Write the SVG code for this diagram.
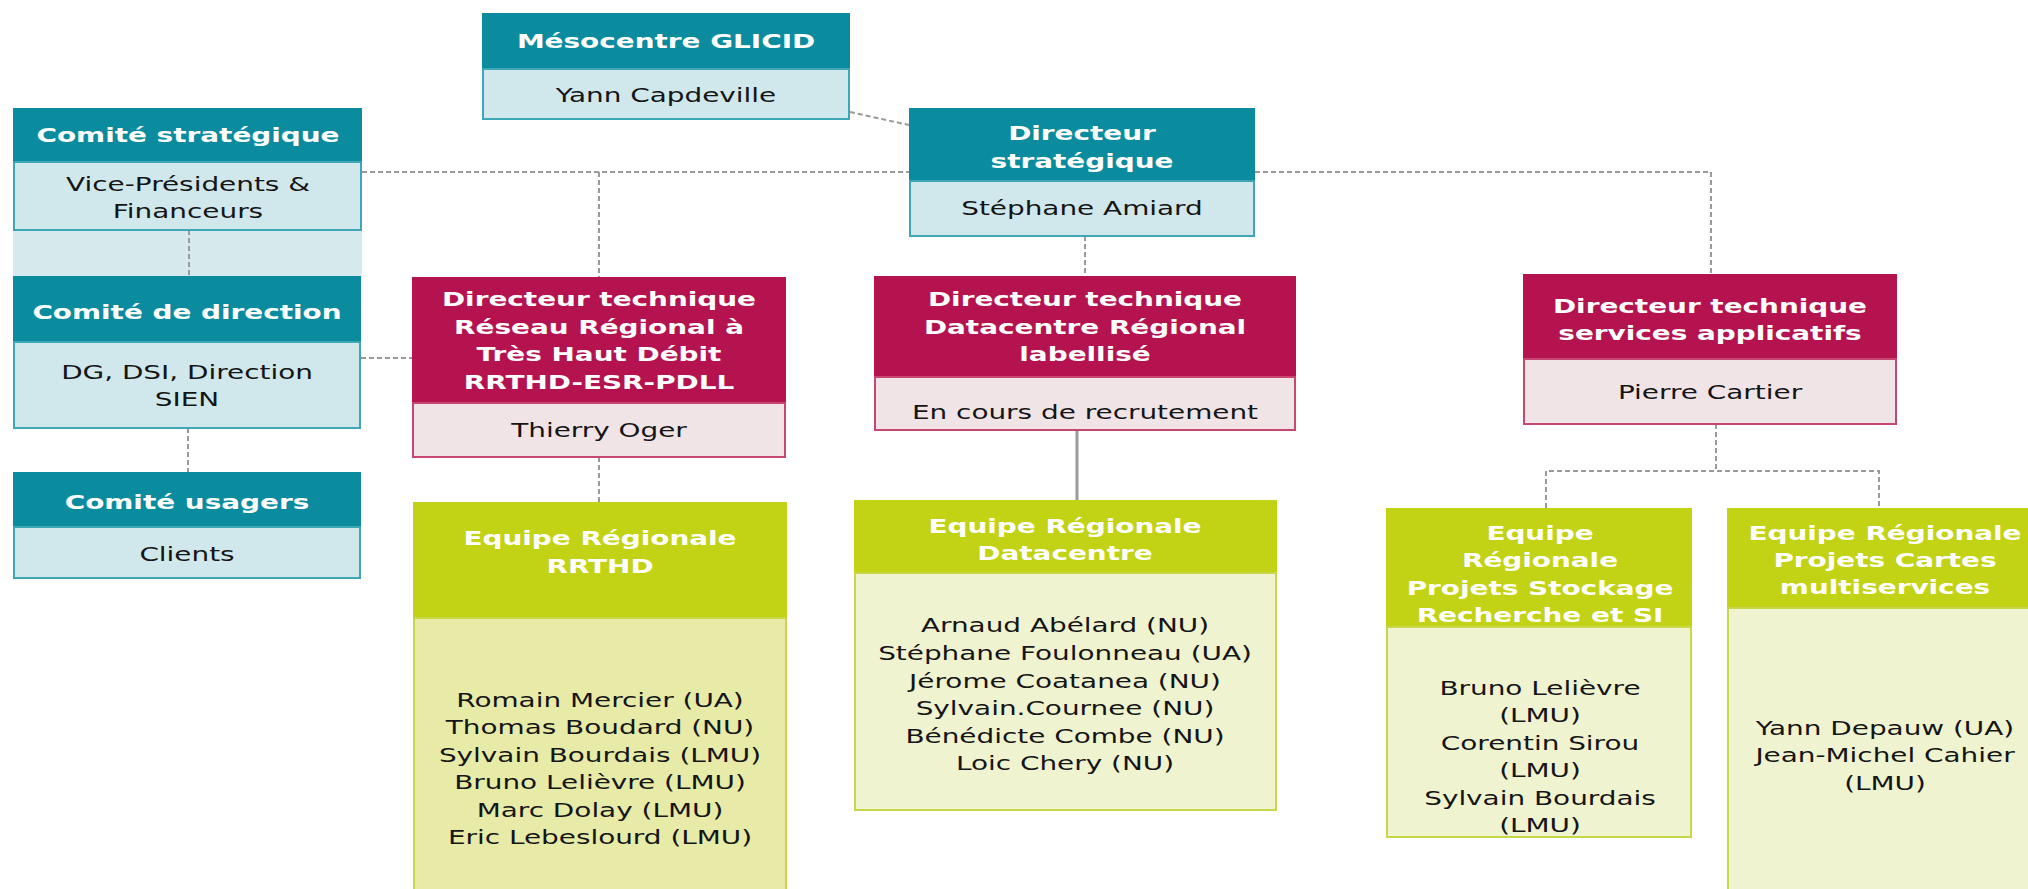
<svg xmlns="http://www.w3.org/2000/svg" width="2028" height="889" viewBox="0 0 2028 889">
<style>
.th{fill:#0b8b9e}
.tb{fill:#d0e7eb;stroke:#3fa6b5;stroke-width:2}
.mh{fill:#b5134f}
.mb{fill:#f0e4e7;stroke:#c84672;stroke-width:2}
.lh{fill:#c2d315}
.lb{fill:#f0f3d0;stroke:#c8d74a;stroke-width:2}
.lb2{fill:#e7eba7;stroke:#c8d74a;stroke-width:2}
text{font-family:"DejaVu Sans","Verdana",sans-serif;font-size:19.5px;text-anchor:middle}
.h{font-weight:bold;fill:#ffffff}
.b{fill:#151515}
.dash{stroke:#9a9a9a;stroke-width:2;stroke-dasharray:5 3;fill:none}
.solid{stroke:#9a9a9a;stroke-width:3;fill:none}
</style>
<rect width="2028" height="889" fill="#ffffff"/>

<g id="connectors">
  <rect x="13" y="230" width="349" height="47" fill="#d6eaee"/>
  <line class="dash" x1="189" y1="230" x2="189" y2="277"/>
  <line class="dash" x1="188" y1="428" x2="188" y2="472"/>
  <line class="dash" x1="361" y1="358" x2="412" y2="358"/>
  <line class="dash" x1="850" y1="112" x2="909" y2="125"/>
  <line class="dash" x1="362" y1="172" x2="909" y2="172"/>
  <polyline class="dash" points="1255,172 1711,172 1711,275"/>
  <line class="dash" x1="599" y1="172" x2="599" y2="277"/>
  <line class="dash" x1="1085" y1="236" x2="1085" y2="276"/>
  <line class="dash" x1="599" y1="457" x2="599" y2="502"/>
  <line class="solid" x1="1077" y1="430" x2="1077" y2="500"/>
  <line class="dash" x1="1716" y1="424" x2="1716" y2="471"/>
  <polyline class="dash" points="1546,508 1546,471 1879,471 1879,513"/>
</g>

<g id="mesocentre">
  <rect class="th" x="482" y="13" width="368" height="56"/>
  <rect class="tb" x="483" y="69" width="366" height="50"/>
  <g transform="translate(666,0) scale(1.43,1)">
    <text class="h" x="0" y="48">Mésocentre GLICID</text>
    <text class="b" x="0" y="102">Yann Capdeville</text>
  </g>
</g>

<g id="comite-strategique">
  <rect class="th" x="13" y="108" width="349" height="54"/>
  <rect class="tb" x="14" y="162" width="347" height="68"/>
  <g transform="translate(188,0) scale(1.43,1)">
    <text class="h" x="0" y="142">Comité stratégique</text>
    <text class="b" x="0" y="191">Vice-Présidents &amp;</text>
    <text class="b" x="0" y="218">Financeurs</text>
  </g>
</g>

<g id="comite-direction">
  <rect class="th" x="13" y="276" width="348" height="66"/>
  <rect class="tb" x="14" y="342" width="346" height="86"/>
  <g transform="translate(187,0) scale(1.43,1)">
    <text class="h" x="0" y="319">Comité de direction</text>
    <text class="b" x="0" y="379">DG, DSI, Direction</text>
    <text class="b" x="0" y="406">SIEN</text>
  </g>
</g>

<g id="comite-usagers">
  <rect class="th" x="13" y="472" width="348" height="55"/>
  <rect class="tb" x="14" y="527" width="346" height="51"/>
  <g transform="translate(187,0) scale(1.43,1)">
    <text class="h" x="0" y="509">Comité usagers</text>
    <text class="b" x="0" y="561">Clients</text>
  </g>
</g>

<g id="directeur-strategique">
  <rect class="th" x="909" y="108" width="346" height="73"/>
  <rect class="tb" x="910" y="181" width="344" height="55"/>
  <g transform="translate(1082,0) scale(1.43,1)">
    <text class="h" x="0" y="140">Directeur</text>
    <text class="h" x="0" y="168">stratégique</text>
    <text class="b" x="0" y="215">Stéphane Amiard</text>
  </g>
</g>

<g id="dt-rrthd">
  <rect class="mh" x="412" y="277" width="374" height="126"/>
  <rect class="mb" x="413" y="403" width="372" height="54"/>
  <g transform="translate(599,0) scale(1.43,1)">
    <text class="h" x="0" y="306">Directeur technique</text>
    <text class="h" x="0" y="334">Réseau Régional à</text>
    <text class="h" x="0" y="361">Très Haut Débit</text>
    <text class="h" x="0" y="389">RRTHD-ESR-PDLL</text>
    <text class="b" x="0" y="437">Thierry Oger</text>
  </g>
</g>

<g id="dt-datacentre">
  <rect class="mh" x="874" y="276" width="422" height="101"/>
  <rect class="mb" x="875" y="377" width="420" height="53"/>
  <g transform="translate(1085,0) scale(1.43,1)">
    <text class="h" x="0" y="306">Directeur technique</text>
    <text class="h" x="0" y="334">Datacentre Régional</text>
    <text class="h" x="0" y="361">labellisé</text>
    <text class="b" x="0" y="419">En cours de recrutement</text>
  </g>
</g>

<g id="dt-services">
  <rect class="mh" x="1523" y="274" width="374" height="85"/>
  <rect class="mb" x="1524" y="359" width="372" height="65"/>
  <g transform="translate(1710,0) scale(1.43,1)">
    <text class="h" x="0" y="313">Directeur technique</text>
    <text class="h" x="0" y="340">services applicatifs</text>
    <text class="b" x="0" y="399">Pierre Cartier</text>
  </g>
</g>

<g id="equipe-rrthd">
  <rect class="lh" x="413" y="502" width="374" height="116"/>
  <rect class="lb2" x="414" y="618" width="372" height="280"/>
  <g transform="translate(600,0) scale(1.43,1)">
    <text class="h" x="0" y="545">Equipe Régionale</text>
    <text class="h" x="0" y="573">RRTHD</text>
    <text class="b" x="0" y="707">Romain Mercier (UA)</text>
    <text class="b" x="0" y="734.5">Thomas Boudard (NU)</text>
    <text class="b" x="0" y="762">Sylvain Bourdais (LMU)</text>
    <text class="b" x="0" y="789.5">Bruno Lelièvre (LMU)</text>
    <text class="b" x="0" y="817">Marc Dolay (LMU)</text>
    <text class="b" x="0" y="844.5">Eric Lebeslourd (LMU)</text>
  </g>
</g>

<g id="equipe-datacentre">
  <rect class="lh" x="854" y="500" width="423" height="73"/>
  <rect class="lb" x="855" y="573" width="421" height="237"/>
  <g transform="translate(1065,0) scale(1.43,1)">
    <text class="h" x="0" y="533">Equipe Régionale</text>
    <text class="h" x="0" y="560">Datacentre</text>
    <text class="b" x="0" y="632">Arnaud Abélard (NU)</text>
    <text class="b" x="0" y="660">Stéphane Foulonneau (UA)</text>
    <text class="b" x="0" y="688">Jérome Coatanea (NU)</text>
    <text class="b" x="0" y="715">Sylvain.Cournee (NU)</text>
    <text class="b" x="0" y="743">Bénédicte Combe (NU)</text>
    <text class="b" x="0" y="770">Loic Chery (NU)</text>
  </g>
</g>

<g id="equipe-stockage">
  <rect class="lh" x="1386" y="508" width="306" height="119"/>
  <rect class="lb" x="1387" y="627" width="304" height="210"/>
  <g transform="translate(1540,0) scale(1.43,1)">
    <text class="h" x="0" y="540">Equipe</text>
    <text class="h" x="0" y="567">Régionale</text>
    <text class="h" x="0" y="595">Projets Stockage</text>
    <text class="h" x="0" y="622">Recherche et SI</text>
    <text class="b" x="0" y="695">Bruno Lelièvre</text>
    <text class="b" x="0" y="722.5">(LMU)</text>
    <text class="b" x="0" y="750">Corentin Sirou</text>
    <text class="b" x="0" y="777.5">(LMU)</text>
    <text class="b" x="0" y="805">Sylvain Bourdais</text>
    <text class="b" x="0" y="832.5">(LMU)</text>
  </g>
</g>

<g id="equipe-cartes">
  <rect class="lh" x="1727" y="508" width="320" height="100"/>
  <rect class="lb" x="1728" y="608" width="318" height="290"/>
  <g transform="translate(1885,0) scale(1.43,1)">
    <text class="h" x="0" y="540">Equipe Régionale</text>
    <text class="h" x="0" y="567">Projets Cartes</text>
    <text class="h" x="0" y="594">multiservices</text>
    <text class="b" x="0" y="735">Yann Depauw (UA)</text>
    <text class="b" x="0" y="762.5">Jean-Michel Cahier</text>
    <text class="b" x="0" y="790">(LMU)</text>
  </g>
</g>
</svg>
